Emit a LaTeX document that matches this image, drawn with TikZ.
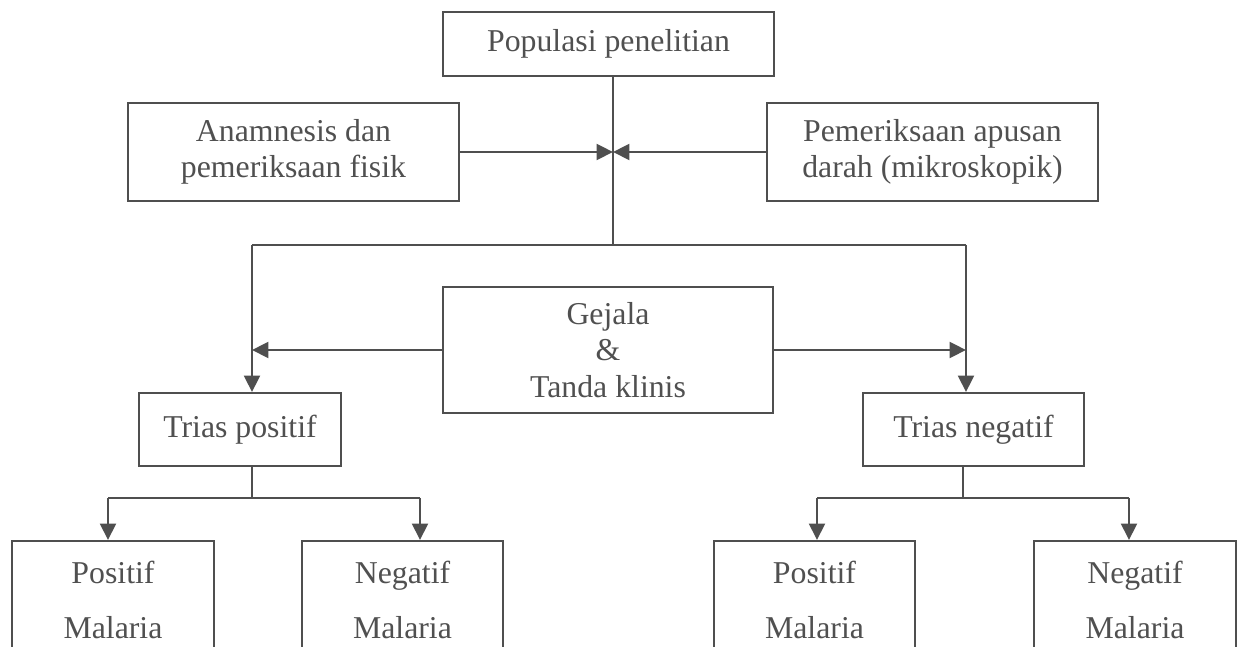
\documentclass[tikz,border=0pt]{standalone}
\usepackage{fontspec}
\setmainfont{Liberation Serif}
\usetikzlibrary{arrows.meta, positioning}
\definecolor{linegray}{HTML}{4F4F4F}
\definecolor{textgray}{HTML}{505050}

\tikzset{
  box/.style={draw=linegray, line width=0.8pt, inner sep=0pt, align=center,
    text=textgray, font=\fontsize{12}{13.8}\selectfont},
  wbox/.style={box, minimum width=124.8pt},
  sbox/.style={box, minimum width=76pt},
  link/.style={draw=linegray, line width=0.9pt},
  arr/.style={link, -{Triangle[length=6.2pt,width=6pt]}}
}

\begin{document}
\begin{tikzpicture}[x=0.3774pt, y=-0.3774pt]
			\useasboundingbox (0,0) rectangle (1241,647);
			\clip (0,0) rectangle (1241,647);
			
			\node[wbox, minimum height=24.1pt] (pop) at (608.5,44) {Populasi penelitian};
			\node[wbox, minimum height=36.9pt] (anam) at (293.5,152) {Anamnesis dan\\pemeriksaan fisik};
			\node[wbox, minimum height=36.9pt] (apus) at (932.5,152) {Pemeriksaan apusan\\darah (mikroskopik)};
			\node[wbox, minimum height=47.5pt] (gej) at (608,350) {Gejala\\\&\\Tanda klinis};
			\node[sbox, minimum height=27.5pt] (tpos) at (240,429.5) {Trias positif};
			\node[box, minimum width=83.3pt, minimum height=27.5pt] (tneg) at (973.5,429.5) {Trias negatif};
			
			% hasil akhir (terpotong di bawah)
			\node[sbox, minimum height=44.5pt] (pm1) at (113,600) {Positif\\[6.9pt]Malaria};
			\node[sbox, minimum height=44.5pt] (nm1) at (402.5,600) {Negatif\\[6.9pt]Malaria};
			\node[sbox, minimum height=44.5pt] (pm2) at (814.5,600) {Positif\\[6.9pt]Malaria};
			\node[sbox, minimum height=44.5pt] (nm2) at (1135,600) {Negatif\\[6.9pt]Malaria};
			
			\coordinate (meet) at (613,152);
			\coordinate (hub) at (613,245);
			\coordinate (lc) at (252,245);
			\coordinate (rc) at (966,245);
			\coordinate (lb) at (252,498);
			\coordinate (rb) at (963,498);
			\coordinate (l1) at (108,498);
			\coordinate (l2) at (420,498);
			\coordinate (r1) at (817,498);
			\coordinate (r2) at (1129,498);
			
			\draw[link] (pop.south -| hub) -- (hub);
			\draw[arr] (anam.east) -- (anam.east -| meet);
			\draw[arr] (apus.west) -- (apus.west -| meet);
			\draw[link] (lc) -- (rc);
			\draw[arr] (lc) -- (lc |- tpos.north);
			\draw[arr] (rc) -- (rc |- tneg.north);
			\draw[arr] (gej.west) -- (gej.west -| lc);
			\draw[arr] (gej.east) -- (gej.east -| rc);
			
			\draw[link] (tpos.south -| lb) -- (lb);
			\draw[link] (l1) -- (l2);
			\draw[arr] (l1) -- (l1 |- pm1.north);
			\draw[arr] (l2) -- (l2 |- nm1.north);
			
			\draw[link] (tneg.south -| rb) -- (rb);
			\draw[link] (r1) -- (r2);
			\draw[arr] (r1) -- (r1 |- pm2.north);
			\draw[arr] (r2) -- (r2 |- nm2.north);
			
		\end{tikzpicture}
\end{document}
